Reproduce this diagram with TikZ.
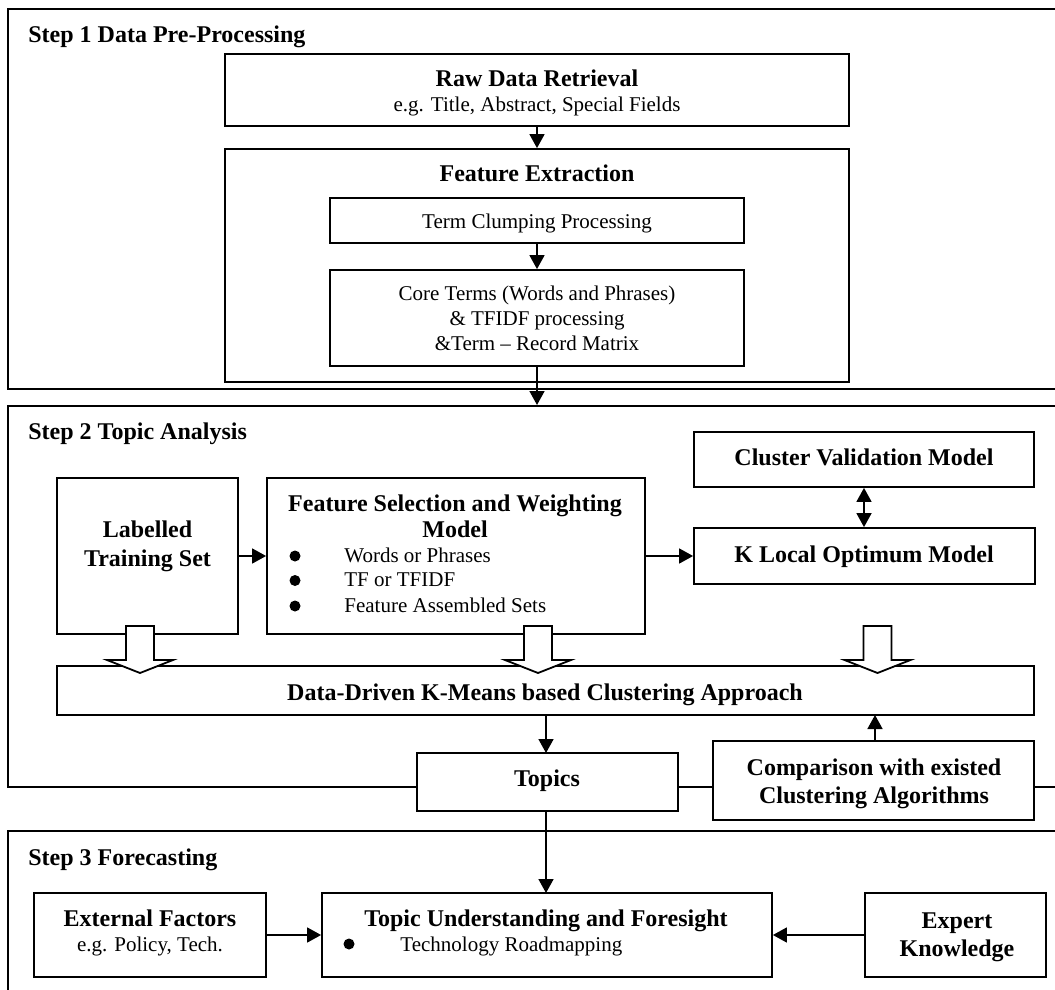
\documentclass[tikz,border=0pt]{standalone}
\usepackage{fontspec}
\setmainfont{Liberation Serif}
\usetikzlibrary{arrows.meta}
\newcommand\blockarr[1]{\draw[blk] (#1-14,626) -- (#1-14,660) -- (#1-33,660) -- (#1,673) -- (#1+33,660) -- (#1+14,660) -- (#1+14,626) -- cycle;}
\begin{document}
\begin{tikzpicture}[x=0.5pt,y=-0.5pt,
  frame/.style={draw,line width=1pt,inner sep=0pt},
  box/.style={draw,line width=0.9pt,fill=white,inner sep=0pt},
  bt/.style={font=\fontsize{12}{14}\selectfont\bfseries,inner sep=0pt,anchor=base},
  rt/.style={font=\fontsize{10.5}{12.5}\selectfont,inner sep=0pt,anchor=base},
  dot/.style={circle,fill=black,inner sep=0pt,minimum size=5.5pt},
  arr/.style={line width=0.8pt,-{Triangle[length=7pt,width=7.5pt]}},
  darr/.style={line width=0.8pt,{Triangle[length=7pt,width=7.5pt]}-{Triangle[length=7pt,width=7.5pt]}},
  blk/.style={draw,line width=0.9pt,fill=white,line join=miter}]
\useasboundingbox (0,0) rectangle (1055,990);

% step frames
\node[frame,minimum width=527pt,minimum height=190pt] (step1) at (535,199) {};
\node[frame,minimum width=527pt,minimum height=190.5pt] (step2) at (535,596.5) {};
\node[frame,minimum width=527pt,minimum height=84.5pt] (step3) at (535,915.5) {};
\node[bt,anchor=base west] (h1) at (28,43) {Step 1 Data Pre-Processing};
\node[bt,anchor=base west] (h2) at (28,439) {Step 2 Topic Analysis};
\node[bt,anchor=base west] (h3) at (28,865) {Step 3 Forecasting};

% Step 1
\node[box,minimum width=312pt,minimum height=36pt] (raw) at (537,90) {};
\node[bt] (rawT) at (537,87) {Raw Data Retrieval};
\node[rt] (rawS) at (537,112) {e.g. Title, Abstract, Special Fields};
\node[box,minimum width=312pt,minimum height=116.5pt] (fe) at (537,265.5) {};
\node[bt] (feT) at (537,182) {Feature Extraction};
\node[box,minimum width=207pt,minimum height=22.5pt] (term) at (537,220.5) {};
\node[rt] (termT) at (537,228) {Term Clumping Processing};
\node[box,minimum width=207pt,minimum height=48pt] (core) at (537,318) {};
\node[rt] (core1) at (537,300) {Core Terms (Words and Phrases)};
\node[rt] (core2) at (537,325) {\& TFIDF processing};
\node[rt] (core3) at (537,350) {\&Term – Record Matrix};
\draw[arr] (raw.south) -- (fe.north);
\draw[arr] (term.south) -- (core.north);
\draw[arr] (core.south) -- (core.south |- step2.north);

% Step 2
\node[box,minimum width=170pt,minimum height=27.5pt] (cv) at (864,459.5) {};
\node[bt] (cvT) at (864,465) {Cluster Validation Model};
\node[box,minimum width=170.5pt,minimum height=28pt] (kl) at (864.5,556) {};
\node[bt] (klT) at (864,562.5) {K Local Optimum Model};
\draw[darr] (cv.south) -- (cv.south |- kl.north);

\node[box,minimum width=90.5pt,minimum height=78pt] (lab) at (147.5,556) {};
\node[bt] (lab1) at (147.5,537.5) {Labelled};
\node[bt] (lab2) at (147.5,566.5) {Training Set};

\node[box,minimum width=189pt,minimum height=78pt] (fs) at (456,556) {};
\node[bt] (fs1) at (455,511) {Feature Selection and Weighting};
\node[bt] (fs2) at (455,537.5) {Model};
\node[dot] (b1) at (295,556) {};
\node[dot] (b2) at (295,580.5) {};
\node[dot] (b3) at (295,606) {};
\node[rt,anchor=base west] (i1) at (344,562.5) {Words or Phrases};
\node[rt,anchor=base west] (i2) at (344,586.5) {TF or TFIDF};
\node[rt,anchor=base west] (i3) at (344,612) {Feature Assembled Sets};

\draw[arr] (lab.east) -- (fs.west);
\draw[arr] (fs.east) -- (kl.west);

\node[box,minimum width=488.5pt,minimum height=24.5pt] (dd) at (545.5,690.5) {};
\node[bt] (ddT) at (545,700) {Data-Driven K-Means based Clustering Approach};

\blockarr{140}
\blockarr{538}
\blockarr{877.5}

\node[box,minimum width=130.5pt,minimum height=29pt] (top) at (547.5,782) {};
\node[bt] (topT) at (547,786.5) {Topics};
\node[box,minimum width=160.5pt,minimum height=39.5pt] (cmp) at (873.5,780.5) {};
\node[bt] (cmp1) at (874,775) {Comparison with existed};
\node[bt] (cmp2) at (874,803.5) {Clustering Algorithms};
\draw[arr] (dd.south -| 546,0) -- (546,753);
\draw[arr] (cmp.north -| 875,0) -- (875,715);

% Step 3
\node[box,minimum width=116pt,minimum height=42pt] (ext) at (150,935) {};
\node[bt] (ext1) at (150,926.5) {External Factors};
\node[rt] (ext2) at (150,951.5) {e.g. Policy, Tech.};
\node[box,minimum width=225pt,minimum height=42pt] (tu) at (547,935) {};
\node[bt] (tu1) at (546,926.5) {Topic Understanding and Foresight};
\node[dot] (b4) at (349,944) {};
\node[rt,anchor=base west] (tu2) at (400,951.5) {Technology Roadmapping};
\node[box,minimum width=90.5pt,minimum height=42pt] (exp) at (955.5,935) {};
\node[bt] (exp1) at (957,928) {Expert};
\node[bt] (exp2) at (957,956.5) {Knowledge};

\draw[arr] (top.south -| 546,0) -- (546,893);
\draw[arr] (ext.east) -- (tu.west);
\draw[arr] (exp.west) -- (tu.east);
\end{tikzpicture}
\end{document}
